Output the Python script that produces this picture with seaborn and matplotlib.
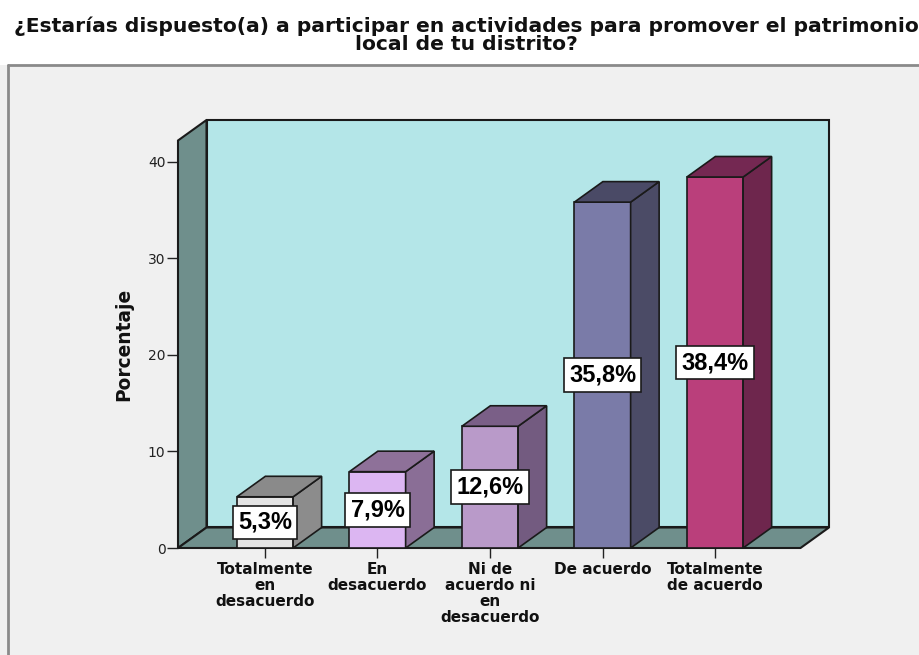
import matplotlib
matplotlib.use("Agg")
import matplotlib.pyplot as plt
from matplotlib.patches import Polygon, Rectangle
import seaborn as sns
import pandas as pd

# ---- data ----
categories = ["Totalmente\nen\ndesacuerdo", "En\ndesacuerdo",
              "Ni de\nacuerdo ni\nen\ndesacuerdo", "De acuerdo",
              "Totalmente\nde acuerdo"]
values = [5.3, 7.9, 12.6, 35.8, 38.4]
yticks = [0, 10, 20, 30, 40]
title = ("¿Estarías dispuesto(a) a participar en actividades para promover el patrimonio\n"
         "local de tu distrito?")
ylabel = "Porcentaje"

front_colors = ["#e4e4e4", "#dcb6f2", "#b99ac9", "#7a7ba8", "#ba3f7b"]
side_colors = ["#8c8c8c", "#8a6e96", "#735b80", "#4b4b66", "#6e264d"]
top_colors = ["#8a8a8a", "#8e7199", "#7a5f87", "#4a4a66", "#742852"]

sns.set_theme(style="white")
plt.rcParams["font.family"] = ["DejaVu Sans"]

W, H = 919, 655
fig = plt.figure(figsize=(W / 100, H / 100), dpi=100)
fig.patch.set_facecolor("white")

def fx(px):
    return px / W

def fy(py):
    return 1 - py / H

# frame background
fig.add_artist(Rectangle((0, 0), 1, fy(65), transform=fig.transFigure,
                         facecolor="#f0f0f0", edgecolor="none", zorder=-10))
fig.add_artist(plt.Line2D([fx(8), 1], [fy(65), fy(65)], transform=fig.transFigure,
                          color="#8a8a8a", lw=2, zorder=-9))
fig.add_artist(plt.Line2D([fx(8), fx(8)], [fy(65), 0], transform=fig.transFigure,
                          color="#8a8a8a", lw=2, zorder=-9))

ax = fig.add_axes([fx(178), fy(548), (829 - 178) / W, (548 - 120) / H])
ax.set_facecolor("none")
ax.set_zorder(1)

df = pd.DataFrame({"cat": categories, "val": values})
sns.barplot(data=df, x="cat", y="val", hue="cat", order=categories,
            hue_order=categories, palette=front_colors, width=0.5,
            edgecolor="#1a1a1a", linewidth=1.2, ax=ax, legend=False,
            saturation=1)

x0, x1 = -0.7733, 5.0133
y1 = 44.3
ax.set_xlim(x0, x1)
ax.set_ylim(0, y1)
DX = 28.5 / 112.5
DY = 20.5 / 9.66

bars = sorted([p for p in ax.patches if isinstance(p, Rectangle)], key=lambda p: p.get_x())

ec = "#1a1a1a"
# back wall
ax.add_patch(Rectangle((x0 + DX, DY), x1 - x0 - DX, y1 - DY, facecolor="#b4e6e8",
                       edgecolor=ec, lw=1.5, zorder=0.5, clip_on=False))
# left side wall
ax.add_patch(Polygon([(x0, 0), (x0, y1 - DY), (x0 + DX, y1), (x0 + DX, DY)],
                     closed=True, facecolor="#6f8f8c", edgecolor=ec, lw=1.5,
                     zorder=0.6, clip_on=False))
# floor
ax.add_patch(Polygon([(x0, 0), (x1 - DX, 0), (x1, DY), (x0 + DX, DY)],
                     closed=True, facecolor="#6f8f8c", edgecolor=ec, lw=1.5,
                     zorder=0.7, clip_on=False))

for p, sc, tc, v in zip(bars, side_colors, top_colors, values):
    x, w, h = p.get_x(), p.get_width(), p.get_height()
    p.set_zorder(3)
    ax.add_patch(Polygon([(x + w, 0), (x + w + DX, DY), (x + w + DX, h + DY), (x + w, h)],
                         closed=True, facecolor=sc, edgecolor=ec, lw=1.2, zorder=3))
    ax.add_patch(Polygon([(x, h), (x + w, h), (x + w + DX, h + DY), (x + DX, h + DY)],
                         closed=True, facecolor=tc, edgecolor=ec, lw=1.2, zorder=3))
    ax.text(x + w / 2, h / 2, f"{v:.1f}%".replace(".", ","), ha="center", va="center",
            fontsize=17, fontweight="bold", family=["Liberation Sans", "DejaVu Sans"],
            color="black", zorder=5,
            bbox=dict(boxstyle="square,pad=0.22", fc="white", ec=ec, lw=1.2))

for s in ax.spines.values():
    s.set_visible(False)

ax.set_yticks(yticks)
ax.set_yticklabels([str(t) for t in yticks])
ax.tick_params(axis="y", left=True, direction="out", length=8, width=1,
               color="#222222", labelsize=10, labelcolor="#222222", pad=1)
ax.tick_params(axis="x", bottom=True, direction="out", length=7, width=1,
               color="#222222", labelsize=11, labelcolor="#111111", pad=3)
for lbl in ax.get_xticklabels():
    lbl.set_fontweight("bold")
    lbl.set_linespacing(1.1)
ax.set_xlabel("")
ax.set_ylabel("")

fig.text(fx(124), fy(344), ylabel, rotation=90, ha="center", va="center",
         fontsize=13.4, fontweight="bold", color="#111111")
fig.text(fx(466), fy(35), title, ha="center", va="center", fontsize=14.6,
         fontweight="bold", color="#111111", linespacing=0.95)

fig.savefig("out.png", dpi=100)
